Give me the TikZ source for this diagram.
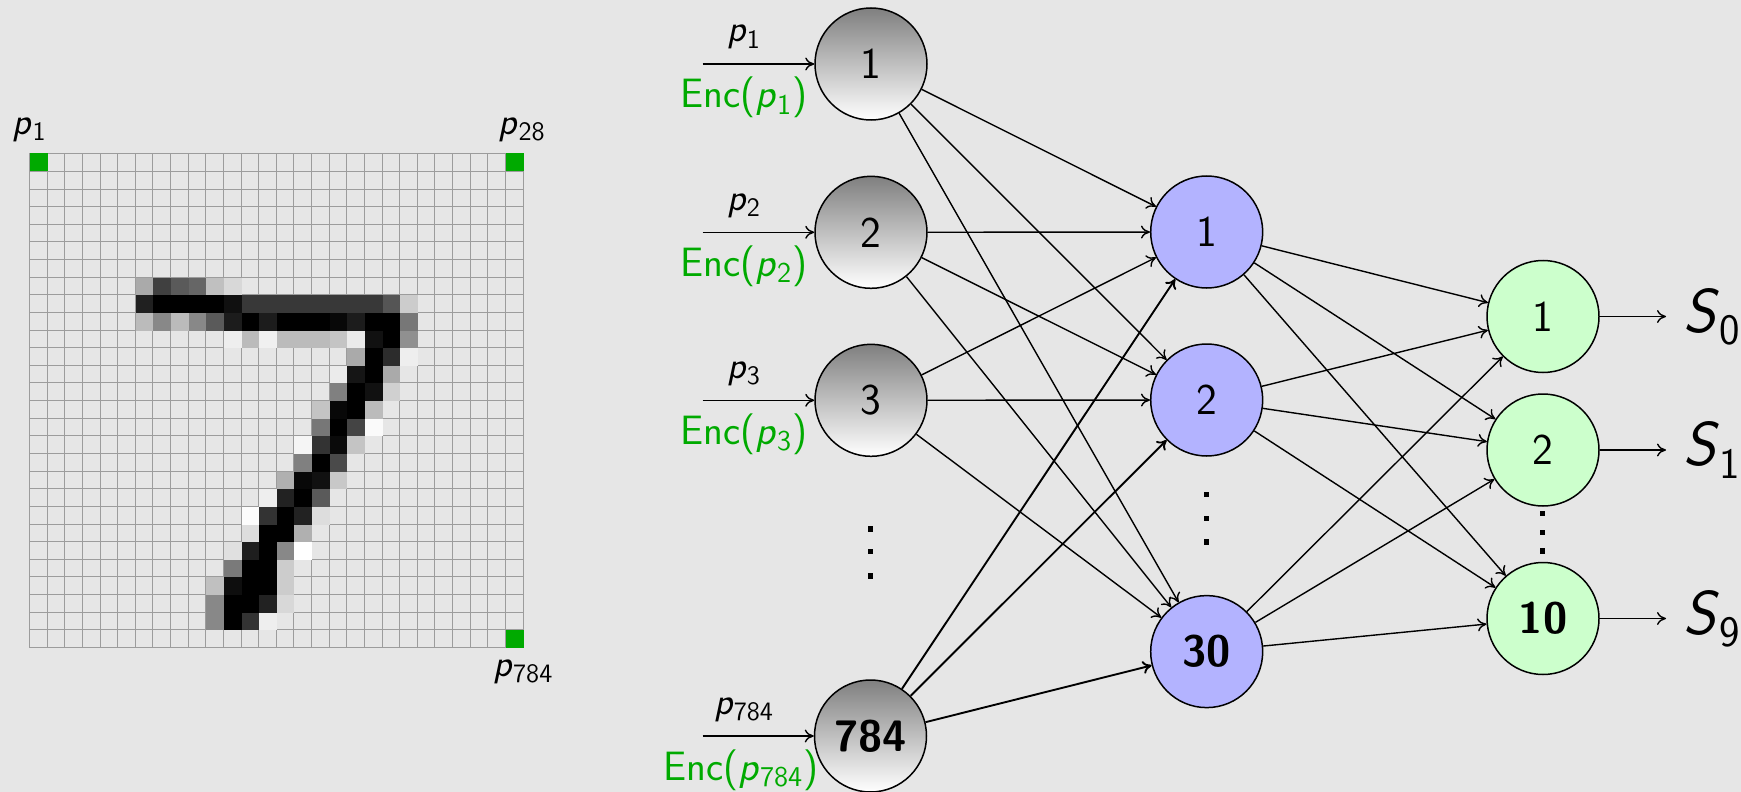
\documentclass[tikz,border=0pt]{standalone}
\usetikzlibrary{arrows.meta,shapes.geometric}
\definecolor{bgc}{HTML}{E6E6E6}
\definecolor{encgreen}{HTML}{00AA00}
\definecolor{hidblue}{HTML}{B3B3FF}
\definecolor{outgreen}{HTML}{CCFFCC}
\definecolor{gridgray}{HTML}{9C9C9C}
\newcommand\pv[1]{\textit{p}\textsubscript{#1}}
\begin{document}
\begin{tikzpicture}[x=0.5pt,y=-0.5pt,
  conn/.style={line width=0.7pt,-{To[length=4.5pt,width=6.5pt]}},
  boldconn/.style={conn,line width=0.95pt},
  neuron/.style={circle,draw,line width=0.75pt,minimum size=56pt,inner sep=0pt,
    font=\fontsize{22}{26}\selectfont\sffamily},
  inpnode/.style={neuron,top color=black!50,bottom color=white},
  hidnode/.style={neuron,fill=hidblue},
  outnode/.style={neuron,fill=outgreen},
  lab/.style={font=\fontsize{19}{23}\selectfont\sffamily,inner sep=0pt,anchor=base},
  enclab/.style={lab,font=\fontsize{20.5}{24}\selectfont\sffamily,text=encgreen},
  slab/.style={font=\fontsize{31}{36}\selectfont\sffamily,inner sep=0pt,anchor=west},
  gridline/.style={draw=gridgray,line width=0.55pt},
]
\useasboundingbox (0,0) rectangle (1741,792);
\fill[bgc] (0,0) rectangle (1741,792);

% ---------- pixel grid (snapped to whole pixels) ----------
\foreach \i in {0,...,28} {
  \pgfmathsetmacro{\gx}{round(29+\i*17.63)+0.5}
  \pgfmathsetmacro{\gy}{round(153.3+\i*17.63)+0.5}
  \draw[gridline] (\gx,153.5) -- (\gx,647.5);
  \draw[gridline] (29.5,\gy) -- (523.5,\gy);
}
\foreach \r/\c/\v in {
 7/6/170,7/7/64,7/8/90,7/9/102,7/10/192,7/11/216,
 8/6/32,8/7/0,8/8/0,8/9/0,8/10/0,8/11/16,8/12/56,8/13/56,8/14/56,8/15/56,8/16/56,8/17/56,8/18/56,8/19/56,8/20/85,8/21/204,
 9/6/187,9/7/136,9/8/187,9/9/136,9/10/90,9/11/28,9/12/0,9/13/28,9/14/0,9/15/0,9/16/0,9/17/8,9/18/28,9/19/0,9/20/0,9/21/119,
 10/11/238,10/12/187,10/13/240,10/14/187,10/15/187,10/16/187,10/17/196,10/18/234,10/19/17,10/20/0,10/21/144,
 11/18/170,11/19/0,11/20/44,11/21/238,
 12/17/235,12/18/21,12/19/0,12/20/170,
 13/17/128,13/18/0,13/19/17,13/20/208,
 14/16/196,14/17/8,14/18/0,14/19/187,
 15/16/119,15/17/0,15/18/68,15/19/250,
 16/15/245,16/16/51,16/17/10,16/18/196,
 17/15/128,17/16/0,17/17/74,
 18/14/176,18/15/8,18/16/17,18/17/200,
 19/13/238,19/14/34,19/15/0,19/16/90,
 20/12/252,20/13/51,20/14/0,20/15/34,20/16/221,
 21/12/221,21/13/0,21/14/0,21/15/176,
 22/11/224,22/12/30,22/13/0,22/14/136,22/15/255,
 23/11/122,23/12/0,23/13/0,23/14/204,
 24/10/192,24/11/14,24/12/0,24/13/0,24/14/204,
 25/10/136,25/11/0,25/12/0,25/13/34,25/14/216,
 26/10/136,26/11/0,26/12/51,26/13/238} {
  \pgfmathsetmacro{\xa}{round(29+\c*17.63)+0.5}
  \pgfmathsetmacro{\xb}{round(29+(\c+1)*17.63)+0.5}
  \pgfmathsetmacro{\ya}{round(153.3+\r*17.63)+0.5}
  \pgfmathsetmacro{\yb}{round(153.3+(\r+1)*17.63)+0.5}
  \fill[fill={rgb,255:red,\v;green,\v;blue,\v}] (\xa,\ya) rectangle (\xb,\yb);
}
\foreach \r/\c in {0/0,0/27,27/27} {
  \pgfmathsetmacro{\xa}{round(29+\c*17.63)+0.5}
  \pgfmathsetmacro{\xb}{round(29+(\c+1)*17.63)+0.5}
  \pgfmathsetmacro{\ya}{round(153.3+\r*17.63)+0.5}
  \pgfmathsetmacro{\yb}{round(153.3+(\r+1)*17.63)+0.5}
  \fill[encgreen] (\xa,\ya) rectangle (\xb,\yb);
}

\node[lab,anchor=base west] (g1) at (12.5,134) {\pv{1}};
\node[lab,anchor=base east] (g28) at (546,134) {\pv{28}};
\node[lab,anchor=base west] (g784) at (493,676) {\pv{784}};

% ---------- network nodes ----------
\node[inpnode] (i1) at (871,64) {1};
\node[inpnode] (i2) at (871,232.3) {2};
\node[inpnode] (i3) at (871,400.3) {3};
\node[inpnode] (i4) at (870.5,736) {\bfseries 784};
\node[hidnode] (h1) at (1206.7,232) {1};
\node[hidnode] (h2) at (1206.7,400) {2};
\node[hidnode] (h3) at (1206.7,651.6) {\bfseries 30};
\node[outnode] (o1) at (1543,316.5) {1};
\node[outnode] (o2) at (1543,450) {2};
\node[outnode] (o3) at (1543,618.5) {\bfseries 10};

% vertical dots
\foreach \x/\y in {870.7/529,870.7/551.7,870.7/576,
                   1206.7/494.3,1206.7/518.6,1206.7/541.8,
                   1542.7/513.3,1542.7/532.3,1542.7/551}
  \fill ({\x-2.75},{\y-2.75}) rectangle ++(5.5,5.5);

% ---------- inputs ----------
\foreach \n/\y/\t/\ex in {i1/64/1/744,i2/232.3/2/744,i3/400.3/3/744,i4/736/784/741} {
  \coordinate (a\n) at (702.7,\y);
  \draw[conn] (a\n) -- (\n);
  \node[lab] (p\n) at (744,{\y-22}) {\pv{\t}};
  \node[enclab] (e\n) at (\ex,{\y+44}) {Enc(\pv{\t})};
}

% ---------- connections ----------
\foreach \a in {i1,i2,i3}
  \foreach \b in {h1,h2,h3}
    \draw[conn] (\a) -- (\b);
\foreach \b in {h1,h2,h3}
  \draw[boldconn] (i4) -- (\b);
\foreach \a in {h1,h2,h3}
  \foreach \b in {o1,o2,o3}
    \draw[conn] (\a) -- (\b);

% ---------- outputs ----------
\node[slab] (s0) at (1683,316.5) {\textit{S}\textsubscript{0}};
\node[slab] (s1) at (1683,450) {\textit{S}\textsubscript{1}};
\node[slab] (s9) at (1683,618.5) {\textit{S}\textsubscript{9}};
\draw[conn,shorten >=8.5pt] (o1) -- (s0.west);
\draw[conn,shorten >=8.5pt] (o2) -- (s1.west);
\draw[conn,shorten >=8.5pt] (o3) -- (s9.west);
\end{tikzpicture}
\end{document}
